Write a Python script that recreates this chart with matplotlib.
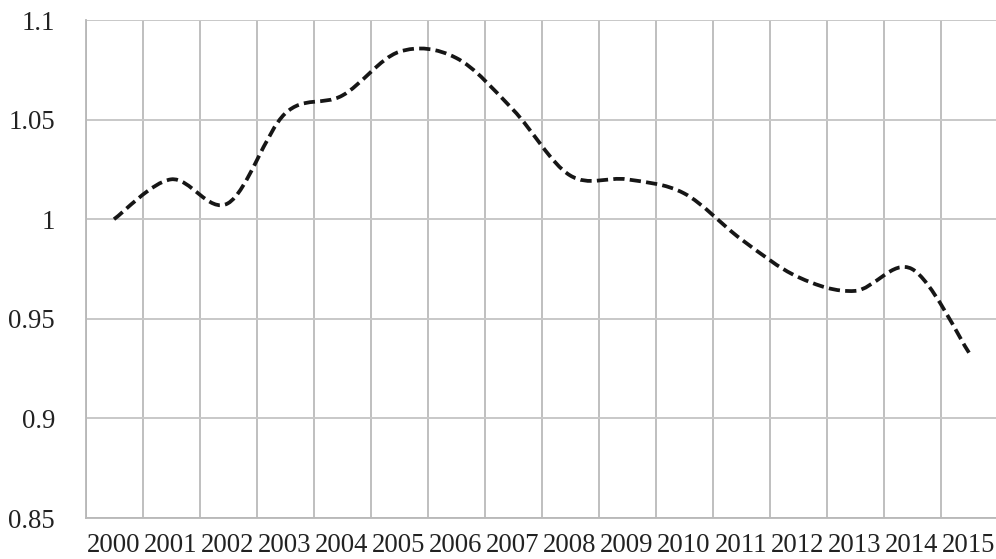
import matplotlib
matplotlib.use("Agg")
import matplotlib.pyplot as plt
from matplotlib.path import Path
from matplotlib.patches import PathPatch
import numpy as np

plt.rcParams['font.family'] = ['Liberation Serif', 'DejaVu Serif']

years = [str(y) for y in range(2000, 2016)]
values = [1.0, 1.02, 1.008, 1.053, 1.062, 1.084, 1.081, 1.055, 1.022,
          1.02, 1.013, 0.99, 0.971, 0.964, 0.975, 0.933]
yticks = [0.85, 0.9, 0.95, 1.0, 1.05, 1.1]
ytick_labels = ["0.85", "0.9", "0.95", "1", "1.05", "1.1"]

W, H = 996, 559
fig = plt.figure(figsize=(W / 100, H / 100), dpi=100)
left, right, top, bottom = 85.5, 997.5, 20, 518
ax = fig.add_axes([left / W, (H - bottom) / H, (right - left) / W, (bottom - top) / H])

# Excel-style smoothed line (cubic Bezier through the points)
xs = np.arange(len(values), dtype=float)
ys = np.array(values)
n = len(xs)
verts = [(xs[0], ys[0])]
codes = [Path.MOVETO]
for i in range(n - 1):
    p0 = np.array([xs[max(i - 1, 0)], ys[max(i - 1, 0)]])
    p1 = np.array([xs[i], ys[i]])
    p2 = np.array([xs[i + 1], ys[i + 1]])
    p3 = np.array([xs[min(i + 2, n - 1)], ys[min(i + 2, n - 1)]])
    c1 = p1 + (p2 - p0) / 6.0
    c2 = p2 - (p3 - p1) / 6.0
    verts += [tuple(c1), tuple(c2), tuple(p2)]
    codes += [Path.CURVE4] * 3
patch = PathPatch(Path(verts, codes), facecolor='none', edgecolor='#161616',
                  lw=2.7, linestyle=(0, (3.0, 1.4)), capstyle='butt', zorder=3)
ax.add_patch(patch)

ax.set_xlim(-0.5, len(years) - 0.5)
ax.set_ylim(0.85, 1.1)
ax.set_xticks(xs)
ax.set_xticklabels(years, fontsize=19.3, color='#222222')
ax.set_xticks(np.arange(-0.5, len(years)), minor=True)
ax.set_yticks(yticks)
ax.set_yticklabels(ytick_labels, fontsize=19.3, color='#222222')
ax.tick_params(axis='both', which='both', length=0)
ax.tick_params(axis='x', pad=11)
ax.tick_params(axis='y', pad=22)
ax.grid(True, axis='y', which='major', color='#c8c8c8', lw=1.4)
ax.grid(True, axis='x', which='minor', color='#b4b4b4', lw=1.2)
ax.grid(False, axis='x', which='major')
for s in ['top', 'right']:
    ax.spines[s].set_visible(False)
for s in ['left', 'bottom']:
    ax.spines[s].set_color('#b8b8b8')
    ax.spines[s].set_linewidth(1.3)
ax.set_axisbelow(True)

fig.savefig("out.png", dpi=100)
